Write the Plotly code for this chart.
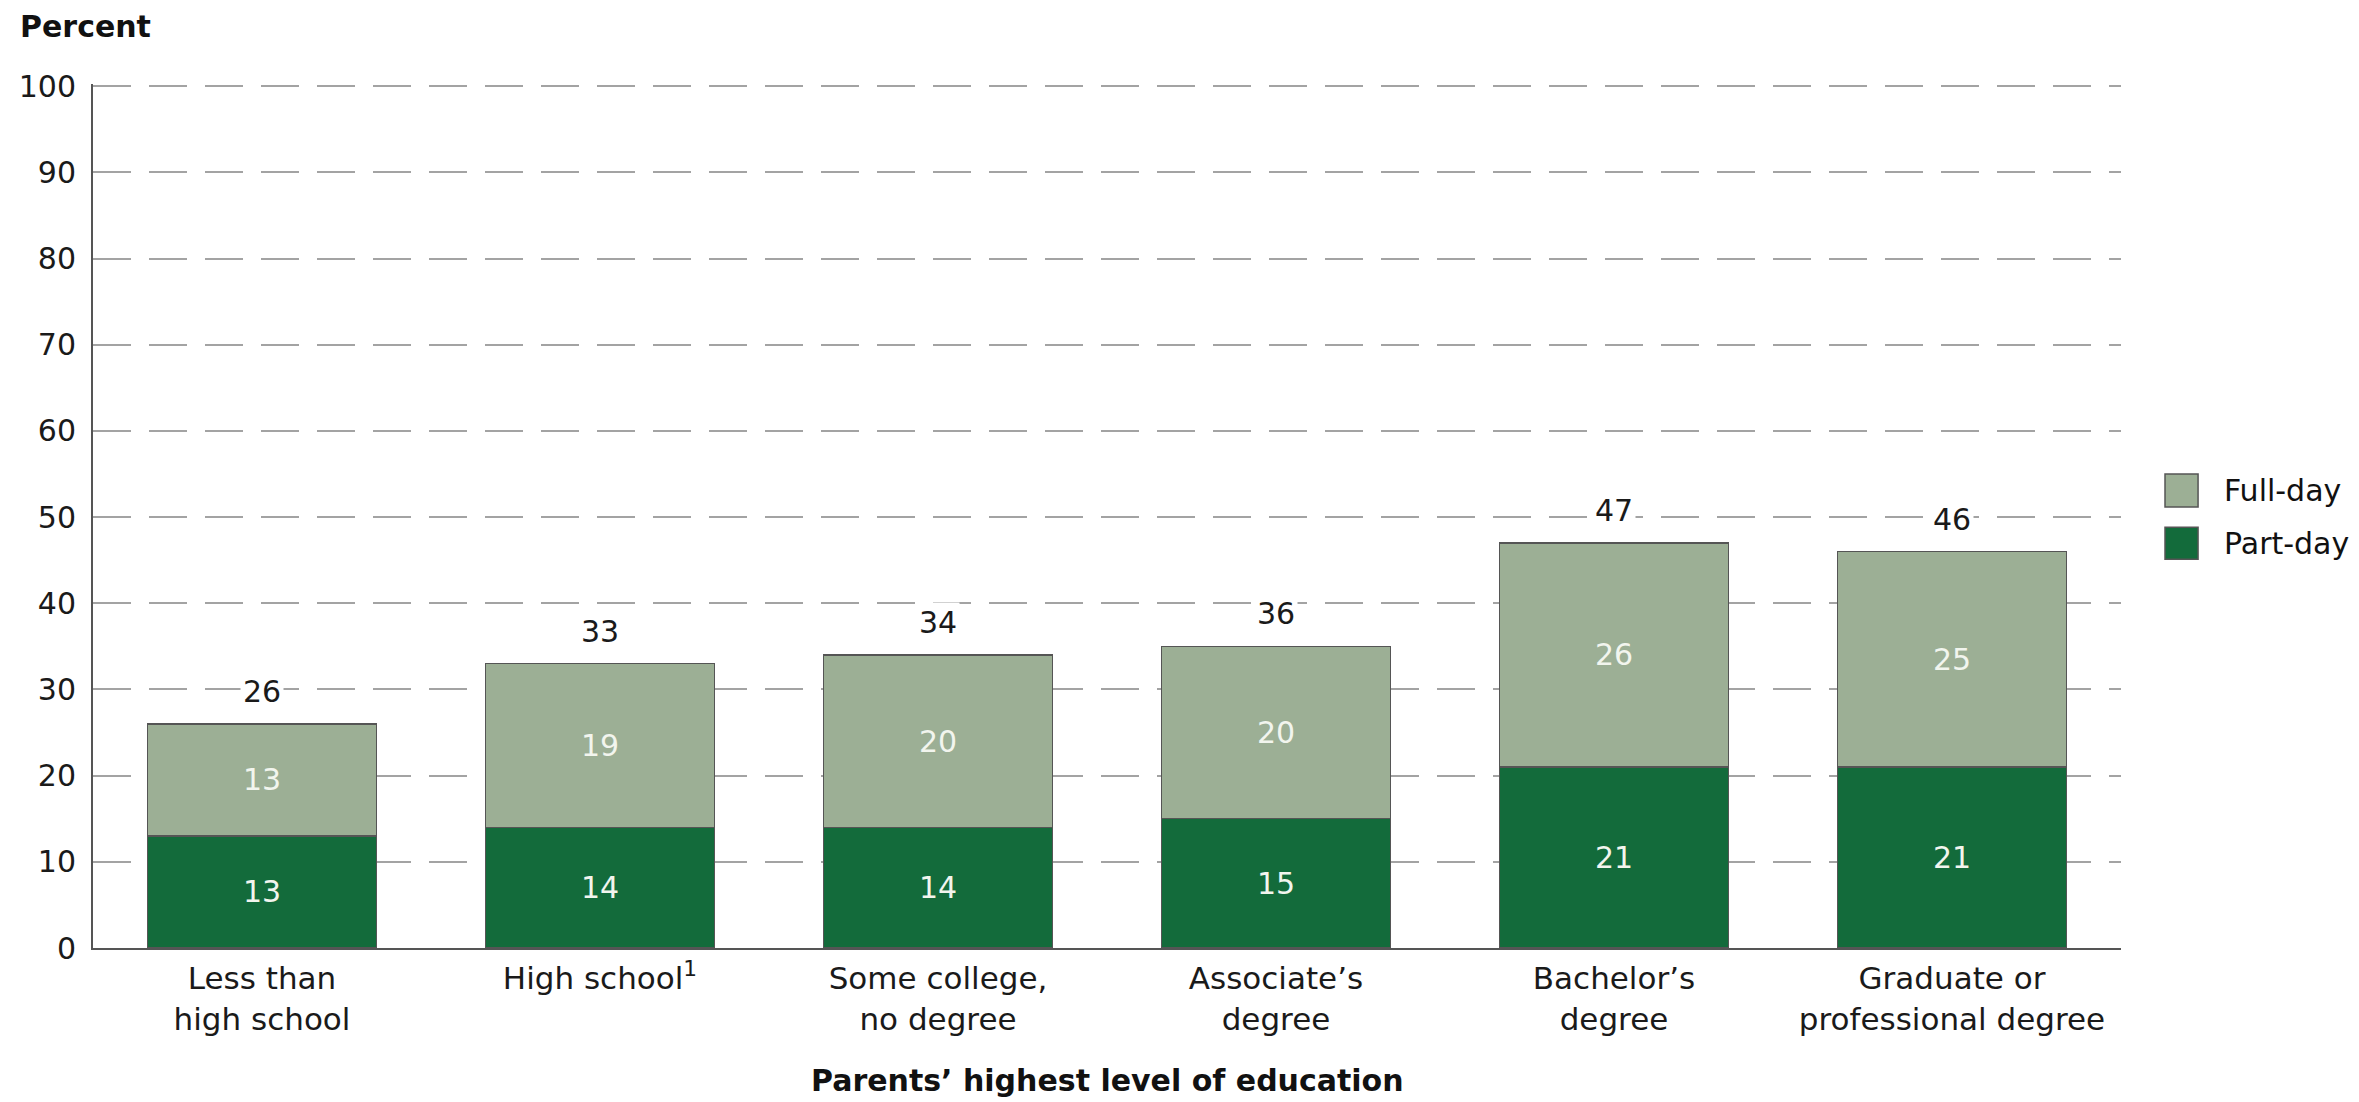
import plotly.graph_objects as go

categories = ["Less than<br>high school", "High school<sup>1</sup>", "Some college,<br>no degree",
              "Associate’s<br>degree", "Bachelor’s<br>degree", "Graduate or<br>professional degree"]
part_day = [13, 14, 14, 15, 21, 21]
full_day = [13, 19, 20, 20, 26, 25]
total_labels = ["26", "33", "34", "36", "47", "46"]
y_ticks = [0, 10, 20, 30, 40, 50, 60, 70, 80, 90, 100]

DARK = "#136b3b"
LIGHT = "#9caf95"
EDGE = "#555555"
FONT = "DejaVu Sans"

fig = go.Figure()
fig.add_trace(go.Bar(
    x=categories, y=part_day, name="Part-day",
    marker=dict(color=DARK, line=dict(color=EDGE, width=1.5)),
    text=[str(v) for v in part_day], textposition="inside", insidetextanchor="middle",
    textangle=0, textfont=dict(color="#f2f5ee", size=30, family=FONT),
    showlegend=False,
))
fig.add_trace(go.Bar(
    x=categories, y=full_day, name="Full-day",
    marker=dict(color=LIGHT, line=dict(color=EDGE, width=1.5)),
    text=[str(v) for v in full_day], textposition="inside", insidetextanchor="middle",
    textangle=0, textfont=dict(color="#f2f5ee", size=30, family=FONT),
    showlegend=False,
))

totals = [p + f for p, f in zip(part_day, full_day)]
for cat, tot, lab in zip(categories, totals, total_labels):
    fig.add_annotation(x=cat, y=tot, text=lab, showarrow=False, yanchor="bottom",
                       yshift=12, bgcolor="white", borderpad=2,
                       font=dict(size=30, color="#1a1a1a", family=FONT))

# Axis captions
fig.add_annotation(xref="paper", yref="paper", x=-0.037, y=1.067, xanchor="left", yanchor="middle",
                   text="<b>Percent</b>", showarrow=False, font=dict(size=30, color="#111", family=FONT))
fig.add_annotation(xref="paper", yref="paper", x=0.5, y=-0.153, xanchor="center", yanchor="middle",
                   text="<b>Parents’ highest level of education</b>", showarrow=False,
                   font=dict(size=30, color="#111", family=FONT))

# Legend (drawn manually for larger swatches)
legend_items = [("Full-day", LIGHT, 0.5104, 0.5487), ("Part-day", DARK, 0.450, 0.487)]
for name, col, y0, y1 in legend_items:
    fig.add_shape(type="rect", xref="paper", yref="paper", x0=1.0217, x1=1.038, y0=y0, y1=y1,
                  fillcolor=col, line=dict(color=EDGE, width=1.5))
    fig.add_annotation(xref="paper", yref="paper", x=1.0498, y=(y0 + y1) / 2, xanchor="left",
                       yanchor="middle", text=name, showarrow=False,
                       font=dict(size=30, color="#111", family=FONT))

fig.update_layout(
    barmode="stack", bargap=0.322,
    width=2359, height=1102,
    margin=dict(l=93, r=238, t=84, b=154),
    plot_bgcolor="white", paper_bgcolor="white",
    font=dict(family=FONT, size=30, color="#1a1a1a"),
)
fig.update_yaxes(range=[0, 100.25], tickvals=y_ticks, showgrid=True, gridcolor="#a3a3a3", gridwidth=2,
                 griddash="38px,18px", showline=True, linecolor="#555555", linewidth=2,
                 zeroline=False, ticks="", ticklabelstandoff=9,
                 tickfont=dict(size=30, family=FONT, color="#1a1a1a"))
fig.update_xaxes(showline=True, linecolor="#555555", linewidth=2, ticks="", ticklabelstandoff=2,
                 tickfont=dict(size=31, family=FONT, color="#1a1a1a"))

fig.write_html("out.html")
